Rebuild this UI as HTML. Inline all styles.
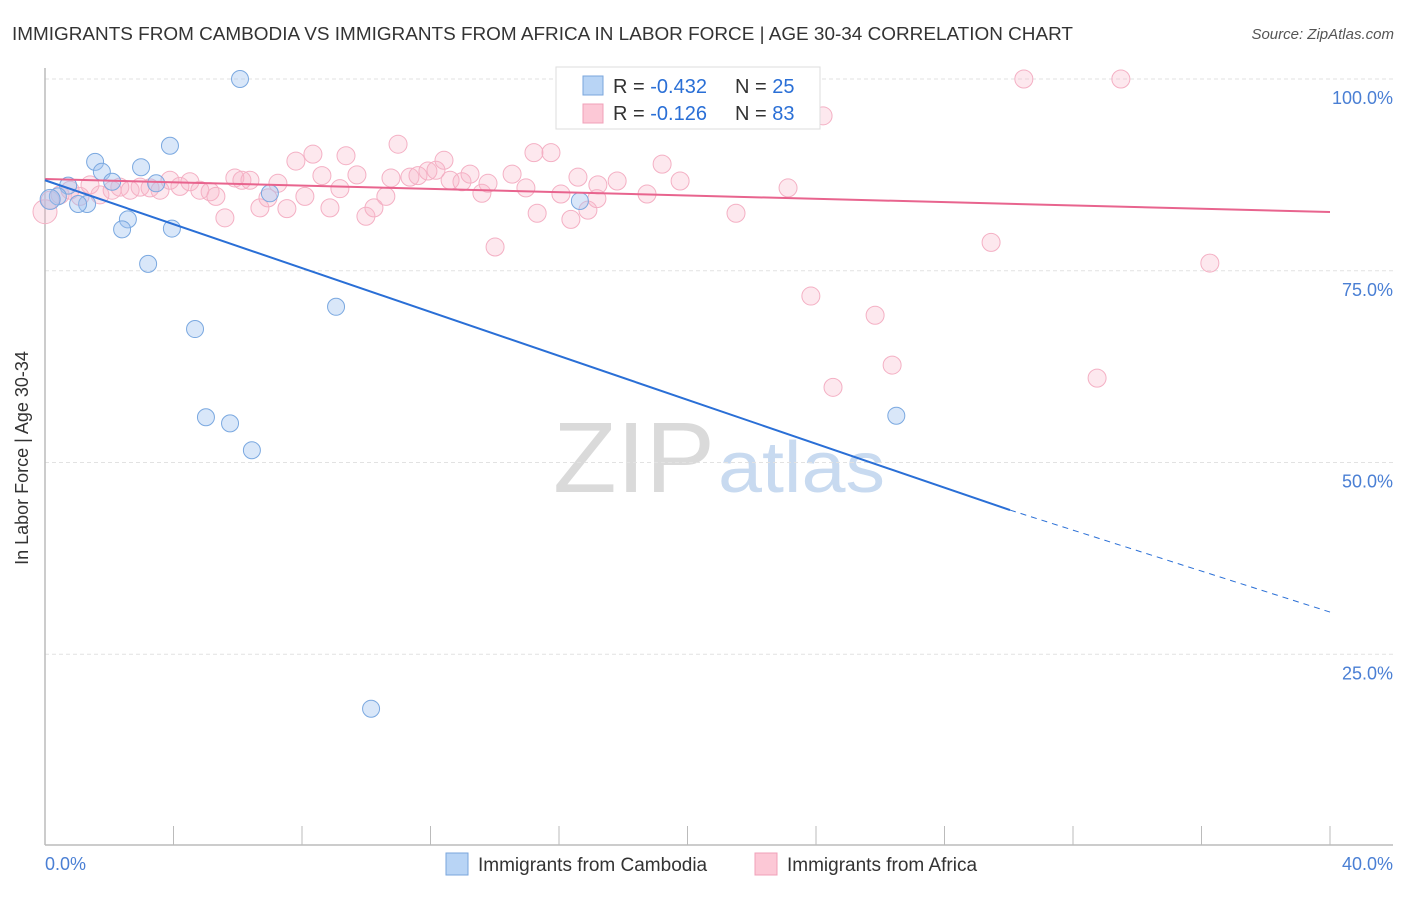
<!DOCTYPE html>
<html><head><meta charset="utf-8"><style>
body{margin:0;background:#fff;font-family:"Liberation Sans",sans-serif}
svg text{font-family:"Liberation Sans",sans-serif}
</style></head><body>
<svg id="c" width="1406" height="892" xmlns="http://www.w3.org/2000/svg">
<text x="12" y="40" font-size="18" fill="#333" textLength="1061" lengthAdjust="spacingAndGlyphs">IMMIGRANTS FROM CAMBODIA VS IMMIGRANTS FROM AFRICA IN LABOR FORCE | AGE 30-34 CORRELATION CHART</text>
<text x="1394" y="39" font-size="15" fill="#555" font-style="italic" text-anchor="end">Source: ZipAtlas.com</text>
<g>
<text x="553" y="492" font-size="100" fill="#dadada" textLength="162" lengthAdjust="spacingAndGlyphs">ZIP</text>
<text x="718" y="492" font-size="72" fill="#c8daf0" textLength="167" lengthAdjust="spacingAndGlyphs">atlas</text>
</g>
<g id="grid"></g><g id="axes"></g><g id="pts"></g><g id="lines"></g>
<text x="28" y="458" font-size="18" fill="#333" transform="rotate(-90 28 458)" text-anchor="middle">In Labor Force | Age 30-34</text>
<g>
<rect x="556" y="67" width="264" height="62" fill="#fff" stroke="#ddd"/>
<rect x="583" y="76" width="20" height="19" fill="#b8d4f5" stroke="#7aa6dc"/>
<rect x="583" y="104" width="20" height="19" fill="#fcc8d6" stroke="#f0a0b8"/>
<text x="613" y="93" font-size="20" fill="#333">R = <tspan fill="#2a6fd6">-0.432</tspan></text>
<text x="735" y="93" font-size="20" fill="#333">N = <tspan fill="#2a6fd6">25</tspan></text>
<text x="613" y="120" font-size="20" fill="#333">R =  <tspan fill="#2a6fd6">-0.126</tspan></text>
<text x="735" y="120" font-size="20" fill="#333">N = <tspan fill="#2a6fd6">83</tspan></text>
</g>
<g>
<rect x="446" y="853" width="22" height="22" fill="#b8d4f5" stroke="#7aa6dc"/>
<text x="478" y="871" font-size="19" fill="#333">Immigrants from Cambodia</text>
<rect x="755" y="853" width="22" height="22" fill="#fcc8d6" stroke="#f0a0b8"/>
<text x="787" y="871" font-size="19" fill="#333">Immigrants from Africa</text>
</g>
</svg>
<script>
const yTicks=[100,75,50,25];
const yTickLabels=["100.0%","75.0%","50.0%","25.0%"];
const xTickLabels=["0.0%","40.0%"];
const cambodiaX=[6.07,3.89,1.56,2.99,1.77,2.09,0.72,3.46,7.0,0.40,1.31,1.03,2.58,2.40,3.95,3.21,9.06,4.67,5.01,5.76,6.44,10.15,26.5,16.65,0.16];
const cambodiaY=[100,91.3,89.2,88.5,87.9,86.6,86.1,86.4,85.1,84.7,83.7,83.7,81.7,80.4,80.5,75.9,70.3,67.4,55.9,55.1,51.6,17.9,56.1,84.1,84.3];
const africaPx=[[45,212],[50,200],[60,195],[70,190],[80,196],[90,185],[100,195],[112,190],[120,187],[130,190],[140,187],[150,188],[160,190],[170,180],[180,186],[190,182],[200,190],[210,192],[216,196],[225,218],[235,178],[242,180],[250,180],[260,208],[268,198],[278,183],[287,209],[296,161],[305,196],[313,154],[322,176],[330,208],[340,189],[346,156],[357,175],[366,216],[374,208],[386,196],[391,178],[398,144],[410,177],[418,176],[428,171],[436,170],[444,160],[450,180],[462,182],[470,174],[482,193],[488,183],[495,247],[512,174],[526,188],[534,153],[537,213],[551,153],[561,194],[571,219],[578,177],[588,210],[597,199],[598,185],[617,181],[647,194],[662,164],[680,181],[736,213],[788,188],[811,296],[823,116],[833,387],[875,315],[892,365],[991,242],[1024,79],[1097,378],[1121,79],[1210,263],[700,79],[792,79]];
const africaX=africaPx.map(p=>+((p[0]-45)/32.125).toFixed(2));
const africaY=africaPx.map(p=>+((846-p[1])/7.67).toFixed(1));
const cambodiaTrend=[86.8,43.8,30.5];
const africaTrend=[86.96,82.66];
const sx=v=>45+v*32.125, sy=v=>846-v*7.67;
const NS="http://www.w3.org/2000/svg";
function mk(t,a,p){const e=document.createElementNS(NS,t);for(const k in a)e.setAttribute(k,a[k]);p.appendChild(e);return e;}
const grid=document.getElementById('grid'),axes=document.getElementById('axes'),pts=document.getElementById('pts'),lines=document.getElementById('lines');
yTicks.forEach((v,i)=>{
 const l=mk('line',{x1:45,x2:1393,y1:sy(v),y2:sy(v),stroke:'#e2e2e2','stroke-dasharray':'4,3'},grid);
 
 
 const t=mk('text',{x:1393,y:sy(v)+25,'font-size':18,fill:'#4a7fd4','text-anchor':'end'},grid);
 t.textContent=yTickLabels[i];
 
 
});
const ax=mk('line',{x1:45,x2:1393,y1:845,y2:845,stroke:'#bbb','stroke-width':1.5},axes);


const ay=mk('line',{x1:45,x2:45,y1:68,y2:845,stroke:'#bbb','stroke-width':1.5},axes);


for(let i=1;i<=10;i++){const tk=mk('line',{x1:sx(i*4),x2:sx(i*4),y1:826,y2:845,stroke:'#bbb'},axes);
 
 }
[[0,'start',45],[40,'end',1393]].forEach((d,i)=>{const t=mk('text',{x:d[2],y:870,'font-size':18,fill:'#4a7fd4','text-anchor':d[1]},axes);t.textContent=xTickLabels[i];
 
 });
africaX.forEach((x,i)=>{const c=mk('circle',{cx:sx(x),cy:sy(africaY[i]),r:i==0?12:9,fill:'rgba(248,178,198,0.3)',stroke:'#f4b0c4','stroke-width':1},pts);
 
 });
cambodiaX.forEach((x,i)=>{const c=mk('circle',{cx:sx(x),cy:sy(cambodiaY[i]),r:i==24?10:8.5,fill:'rgba(160,196,240,0.4)',stroke:'#7aa8e0','stroke-width':1},pts);
 
 });
const pl=mk('line',{x1:sx(0),y1:sy(africaTrend[0]),x2:sx(40),y2:sy(africaTrend[1]),stroke:'#e8648e','stroke-width':2},lines);


const bl=mk('line',{x1:sx(0),y1:sy(cambodiaTrend[0]),x2:sx(30.04),y2:sy(cambodiaTrend[1]),stroke:'#2a6fd6','stroke-width':2},lines);


const bd=mk('line',{x1:sx(30.04),y1:sy(cambodiaTrend[1]),x2:sx(40),y2:sy(cambodiaTrend[2]),stroke:'#2a6fd6','stroke-width':1,'stroke-dasharray':'6,5'},lines);


</script>
</body></html>
